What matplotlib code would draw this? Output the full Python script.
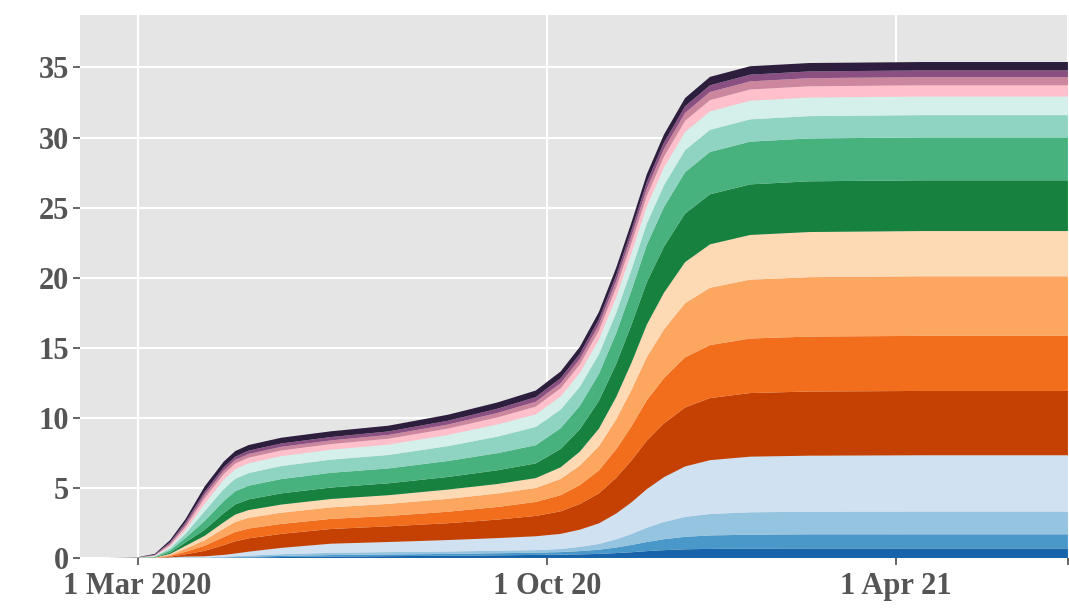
import numpy as np
import pandas as pd
import matplotlib
matplotlib.use("Agg")
import matplotlib.pyplot as plt

dates = pd.to_datetime([
    "2020-02-15", "2020-03-01", "2020-03-10", "2020-03-18", "2020-03-26",
    "2020-04-05", "2020-04-15", "2020-04-21", "2020-04-28", "2020-05-15",
    "2020-06-10", "2020-07-10", "2020-08-10", "2020-09-05", "2020-09-25",
    "2020-10-08", "2020-10-18", "2020-10-28", "2020-11-06", "2020-11-14",
    "2020-11-22", "2020-12-01", "2020-12-12", "2020-12-25", "2021-01-15",
    "2021-02-15", "2021-04-15", "2021-06-30"])

# stacked layers, bottom to top
dark_blue = [0, 0, 0, 0.005, 0.01, 0.01, 0.02, 0.03, 0.04, 0.07, 0.10, 0.13, 0.16, 0.19, 0.22,
             0.23, 0.26, 0.29, 0.35, 0.41, 0.49, 0.56, 0.62, 0.65, 0.67, 0.68, 0.68, 0.68]
mid_blue = [0, 0, 0, 0.005, 0.01, 0.01, 0.03, 0.04, 0.05, 0.08, 0.11, 0.12, 0.13, 0.15, 0.16,
            0.19, 0.23, 0.30, 0.40, 0.52, 0.65, 0.78, 0.89, 0.96, 0.99, 1.01, 1.01, 1.01]
light_blue = [0, 0, 0, 0.01, 0.02, 0.02, 0.04, 0.06, 0.08, 0.12, 0.16, 0.17, 0.17, 0.18, 0.18,
              0.22, 0.30, 0.41, 0.58, 0.78, 1.02, 1.23, 1.42, 1.53, 1.60, 1.61, 1.62, 1.62]
pale_blue = [0, 0, 0, 0.02, 0.06, 0.08, 0.13, 0.19, 0.28, 0.45, 0.65, 0.72, 0.82, 0.90, 0.99,
             1.08, 1.23, 1.47, 1.84, 2.26, 2.75, 3.20, 3.60, 3.84, 3.97, 4.00, 4.02, 4.02]
dark_orange = [0, 0, 0.005, 0.05, 0.16, 0.39, 0.70, 0.87, 0.95, 1.00, 1.05, 1.12, 1.20, 1.32, 1.45,
               1.61, 1.83, 2.14, 2.55, 2.99, 3.46, 3.84, 4.21, 4.43, 4.54, 4.58, 4.59, 4.59]
orange = [0, 0, 0.01, 0.06, 0.18, 0.36, 0.57, 0.66, 0.70, 0.71, 0.72, 0.74, 0.82, 0.90, 1.00,
          1.15, 1.35, 1.64, 2.03, 2.44, 2.88, 3.23, 3.58, 3.78, 3.89, 3.92, 3.93, 3.93]
light_orange = [0, 0, 0.01, 0.07, 0.22, 0.39, 0.61, 0.72, 0.77, 0.80, 0.82, 0.86, 0.92, 0.96, 1.00,
                1.16, 1.39, 1.72, 2.14, 2.59, 3.08, 3.47, 3.86, 4.09, 4.20, 4.24, 4.25, 4.25]
peach = [0, 0, 0.01, 0.07, 0.20, 0.32, 0.45, 0.53, 0.55, 0.58, 0.60, 0.62, 0.66, 0.68, 0.70,
         0.83, 1.00, 1.26, 1.59, 1.94, 2.32, 2.62, 2.93, 3.10, 3.19, 3.22, 3.23, 3.23]
dark_green = [0, 0, 0.02, 0.10, 0.25, 0.43, 0.65, 0.72, 0.76, 0.80, 0.82, 0.85, 0.90, 0.98, 1.05,
              1.31, 1.59, 1.98, 2.36, 2.72, 3.03, 3.29, 3.47, 3.57, 3.61, 3.62, 3.62, 3.62]
mid_green = [0, 0.005, 0.03, 0.15, 0.32, 0.63, 0.86, 0.94, 0.98, 1.02, 1.05, 1.06, 1.14, 1.22, 1.30,
             1.48, 1.67, 1.93, 2.20, 2.44, 2.66, 2.83, 2.95, 3.02, 3.05, 3.06, 3.06, 3.06]
mint = [0, 0.005, 0.03, 0.14, 0.30, 0.69, 0.86, 0.89, 0.90, 0.93, 0.94, 0.96, 1.06, 1.18, 1.30,
        1.33, 1.36, 1.40, 1.45, 1.49, 1.52, 1.55, 1.57, 1.58, 1.59, 1.59, 1.59, 1.59]
pale_mint = [0, 0.005, 0.03, 0.13, 0.25, 0.54, 0.67, 0.69, 0.70, 0.71, 0.71, 0.74, 0.80, 0.87, 0.90,
             0.94, 0.99, 1.05, 1.12, 1.18, 1.23, 1.27, 1.30, 1.32, 1.33, 1.33, 1.33, 1.33]
pink = [0, 0.005, 0.03, 0.12, 0.22, 0.39, 0.40, 0.40, 0.40, 0.40, 0.40, 0.42, 0.45, 0.50, 0.55,
        0.58, 0.60, 0.64, 0.68, 0.71, 0.74, 0.77, 0.79, 0.80, 0.80, 0.80, 0.80, 0.80]
mauve = [0, 0.005, 0.03, 0.10, 0.17, 0.25, 0.26, 0.26, 0.26, 0.26, 0.26, 0.27, 0.29, 0.32, 0.35,
         0.37, 0.40, 0.43, 0.47, 0.50, 0.53, 0.55, 0.57, 0.58, 0.58, 0.58, 0.58, 0.58]
purple = [0, 0.005, 0.03, 0.10, 0.18, 0.22, 0.23, 0.23, 0.24, 0.24, 0.24, 0.25, 0.27, 0.30, 0.33,
          0.35, 0.36, 0.38, 0.41, 0.43, 0.45, 0.46, 0.47, 0.48, 0.48, 0.48, 0.48, 0.48]
dark_purple = [0, 0.02, 0.06, 0.15, 0.22, 0.37, 0.40, 0.40, 0.40, 0.41, 0.41, 0.41, 0.43, 0.45, 0.47,
               0.48, 0.50, 0.52, 0.54, 0.55, 0.57, 0.58, 0.59, 0.60, 0.60, 0.60, 0.60, 0.60]

layers = [dark_blue, mid_blue, light_blue, pale_blue,
          dark_orange, orange, light_orange, peach,
          dark_green, mid_green, mint, pale_mint,
          pink, mauve, purple, dark_purple]
colors = ["#1764ab", "#4a98c9", "#94c4df", "#d0e1f2",
          "#c44103", "#f26d1c", "#fda660", "#fdd9b4",
          "#17813f", "#48b27e", "#8fd4c2", "#d5efeb",
          "#ffc0cb", "#cc869d", "#8a5082", "#2d1e3e"]

tick_dates = pd.to_datetime(["2020-03-01", "2020-10-01", "2021-04-01"])
tick_labels = ["1 Mar 2020", "1 Oct 20", "1 Apr 21"]

plt.rcParams['font.family'] = ['Liberation Serif', 'DejaVu Serif']
plt.rcParams['font.weight'] = 'bold'

fig = plt.figure(figsize=(10.69, 6.15), dpi=100)
ax = fig.add_axes([0.075, 0.0927, 0.924, 0.883])
ax.set_facecolor("#e5e5e5")

ax.stackplot(dates, *layers, colors=colors, linewidth=0)

ax.set_xlim(pd.Timestamp("2020-01-31"), pd.Timestamp("2021-06-30"))
ax.set_ylim(0, 38.75)
ax.set_yticks(range(0, 40, 5))
ax.set_xticks(list(tick_dates) + [pd.Timestamp("2021-06-30")])
ax.set_xticklabels(tick_labels + [""])

ax.grid(True, color="white", linewidth=1.5)
ax.set_axisbelow(True)
for s in ax.spines.values():
    s.set_visible(False)
ax.tick_params(colors="#4d4d4d", labelcolor="#555555", labelsize=22,
               length=5, width=1.2, pad=3)
ax.tick_params(axis="x", pad=5)
for t in ax.get_xticklabels() + ax.get_yticklabels():
    t.set_fontweight('bold')

fig.savefig("out.png", dpi=100)
